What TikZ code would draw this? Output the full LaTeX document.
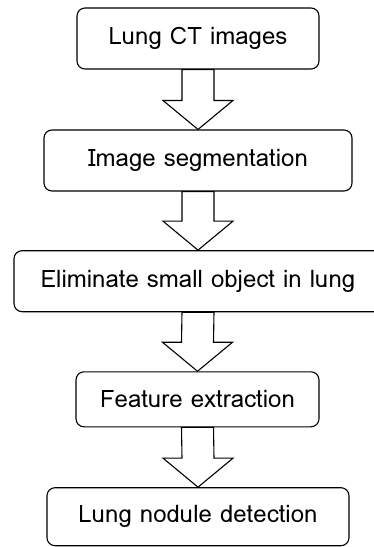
\documentclass[tikz,border=0pt]{standalone}
\usepackage{fontspec}
\newfontfamily\stagefont[Script=Thai]{Loma}
\usepackage{tikz}
\usetikzlibrary{calc,positioning}

\tikzset{
	stage/.style={draw, line width=1.1pt, rounded corners=8pt, inner sep=0pt,
		font=\stagefont\fontsize{24}{28}\selectfont},
	hollow/.style={line width=1.1pt, line join=miter,
		to path={($(\tikztostart)+(-16pt,0)$) -- ($(\tikztotarget)+(-16pt,29pt)$)
			-- ++(-19pt,0) -- (\tikztotarget) -- ++(35pt,29pt) -- ++(-19pt,0)
			-- ($(\tikztostart)+(16pt,0)$) -- cycle}}
}

\begin{document}
\begin{tikzpicture}[x=1pt,y=-1pt]
	
	\useasboundingbox (0,0) rectangle (373,547);
	
	\node[stage, minimum width=242pt, minimum height=61pt] (s1) at (198,38.5) {Lung CT images};
	
	\node[stage, minimum width=308pt, minimum height=61pt] (s2) at (198,160.5) {Image segmentation};
	
	\node[stage, minimum width=368pt, minimum height=61pt] (s3) at (198,281.2) {Eliminate small object in lung};
	
	\node[stage, minimum width=243pt, minimum height=55pt] (s4) at (197.5,399.3) {Feature extraction};
	
	\node[stage, minimum width=302pt, minimum height=58pt] (s5) at (198,516.7) {Lung nodule detection};
	
	\draw (s1.south) edge[hollow] (s2.north)
	(s2.south) edge[hollow] (s3.north)
	(s3.south) edge[hollow] (s4.north)
	(s4.south) edge[hollow] (s5.north);
	
\end{tikzpicture}
\end{document}
